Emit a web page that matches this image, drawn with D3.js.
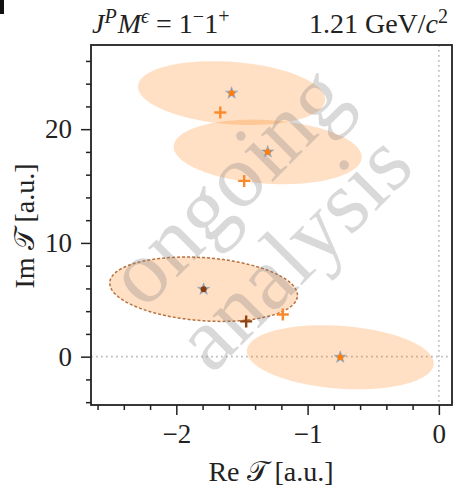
<!DOCTYPE html>
<html>
<head>
<meta charset="utf-8">
<script src="https://cdn.jsdelivr.net/npm/d3@7"></script>
<style>
  html, body { margin: 0; padding: 0; background: #fff; }
  svg { display: block; }
</style>
</head>
<body>
<div id="chart"></div>
<script>
// Fitted amplitude solutions in the complex plane (real / imaginary part)
const solutionRe = [-1.579, -1.304, -1.792, -0.751];
const solutionIm = [23.17, 18.0, 5.93, -0.05];
// Uncertainty ellipse parameters for each solution
const sigmaRe = [0.713, 0.716, 0.715, 0.712];
const sigmaIm = [2.81, 2.84, 2.83, 2.82];
const correlation = [-0.20, -0.16, -0.19, -0.19];
const isSelected = [false, false, true, false];
// Reference (true / input) values
const truthRe = [-1.665, -1.483, -1.468, -1.189];
const truthIm = [21.47, 15.45, 3.10, 3.70];
const truthSelected = [false, false, true, false];
// Axis ticks
const xMajorTicks = [-2, -1, 0];
const xMinorTicks = [-2.6, -2.4, -2.2, -1.8, -1.6, -1.4, -1.2, -0.8, -0.6, -0.4, -0.2];
const yMajorTicks = [0, 10, 20];
const yMinorTicks = [-4, -2, 2, 4, 6, 8, 12, 14, 16, 18, 22, 24, 26];

const W = 457, H = 493;
const mLeft = 91, mRight = 452, mTop = 45, mBottom = 405;
const serif = "'Liberation Serif', 'Times New Roman', serif";
const ink = "#222";

const svg = d3.select("#chart").append("svg")
  .attr("width", W).attr("height", H)
  .attr("font-family", serif);

const x = d3.scaleLinear().domain([-2.65, 0.1]).range([mLeft, mRight]);
const y = d3.scaleLinear().domain([-4.25, 27.4]).range([mBottom, mTop]);

// small dark mark in the top-left corner
svg.append("rect").attr("x", 0).attr("y", 0).attr("width", 4).attr("height", 14).attr("fill", "#111");

svg.append("defs").append("clipPath").attr("id", "plot")
  .append("rect").attr("x", mLeft).attr("y", mTop).attr("width", mRight - mLeft).attr("height", mBottom - mTop);

const plot = svg.append("g").attr("clip-path", "url(#plot)");

// zero reference lines
plot.append("line")
  .attr("x1", mLeft).attr("x2", mRight).attr("y1", y(0)).attr("y2", y(0))
  .attr("stroke", "#bdbdbd").attr("stroke-width", 1.6).attr("stroke-dasharray", "1.8,3.2");
plot.append("line")
  .attr("x1", x(0)).attr("x2", x(0)).attr("y1", mTop).attr("y2", mBottom)
  .attr("stroke", "#bdbdbd").attr("stroke-width", 1.6).attr("stroke-dasharray", "1.8,3.2");

// uncertainty ellipses
const ellipseLine = d3.line().curve(d3.curveLinearClosed);
const angles = d3.range(0, 2 * Math.PI, Math.PI / 90);
solutionRe.forEach((cx, i) => {
  const cy = solutionIm[i], sx = sigmaRe[i], sy = sigmaIm[i], r = correlation[i];
  const pts = angles.map(t => [
    x(cx + sx * Math.cos(t)),
    y(cy + sy * (r * Math.cos(t) + Math.sqrt(1 - r * r) * Math.sin(t)))
  ]);
  const p = plot.append("path")
    .attr("d", ellipseLine(pts))
    .attr("fill", "#ff7f0e").attr("fill-opacity", 0.24);
  if (isSelected[i]) {
    p.attr("stroke", "#b0642c").attr("stroke-opacity", 0.9)
     .attr("stroke-width", 1.5).attr("stroke-dasharray", "3,2");
  }
});

// watermark
const wm = plot.append("text")
  .attr("transform", "translate(266,224) rotate(-45)")
  .attr("text-anchor", "middle")
  .attr("font-size", 90)
  .attr("fill", "#808080").attr("fill-opacity", 0.3);
wm.append("tspan").attr("x", 0).attr("dy", "-0.28em").text("ongoing");
wm.append("tspan").attr("x", 0).attr("dy", "1.04em").text("analysis");

// true values (plus markers)
plot.selectAll(".truth").data(truthRe).join("path")
  .attr("class", "truth")
  .attr("transform", (d, i) => `translate(${x(d)},${y(truthIm[i])})`)
  .attr("d", "M-6,0H6M0,-6V6")
  .attr("fill", "none")
  .attr("stroke", (d, i) => truthSelected[i] ? "#8f4312" : "#fb8a2c")
  .attr("stroke-width", 2.4);

// fitted solutions (star markers)
const star = d3.symbol(d3.symbolStar, 46)();
const stars = plot.selectAll(".sol").data(solutionRe).join("g")
  .attr("class", "sol")
  .attr("transform", (d, i) => `translate(${x(d)},${y(solutionIm[i])})`);
stars.append("path").attr("d", star).attr("fill", "#8797ad").attr("stroke", "#9aa8ba").attr("stroke-width", 0.6);
stars.append("circle").attr("r", 2.9)
  .attr("fill", (d, i) => isSelected[i] ? "#8b3a0e" : "#ff7f0e");

// axes
const fmt = d3.format("d");
svg.append("g").attr("transform", `translate(0,${mBottom})`)
  .call(d3.axisBottom(x).tickValues(xMajorTicks).tickFormat(fmt).tickSize(10).tickPadding(9));
svg.append("g").attr("transform", `translate(0,${mBottom})`)
  .call(d3.axisBottom(x).tickValues(xMinorTicks).tickFormat("").tickSize(5));
svg.append("g").attr("transform", `translate(${mLeft},0)`)
  .call(d3.axisLeft(y).tickValues(yMajorTicks).tickFormat(fmt).tickSize(10).tickPadding(9));
svg.append("g").attr("transform", `translate(${mLeft},0)`)
  .call(d3.axisLeft(y).tickValues(yMinorTicks).tickFormat("").tickSize(5));

svg.selectAll(".domain").remove();
svg.selectAll(".tick line").attr("stroke", ink).attr("stroke-width", 1.5);
svg.selectAll(".tick text")
  .attr("font-family", serif).attr("font-size", 27).attr("fill", ink);

// frame
svg.append("rect")
  .attr("x", mLeft).attr("y", mTop).attr("width", mRight - mLeft).attr("height", mBottom - mTop)
  .attr("fill", "none").attr("stroke", ink).attr("stroke-width", 1.8);

// axis titles
const xLab = svg.append("text")
  .attr("x", 271).attr("y", 481)
  .attr("text-anchor", "middle").attr("font-size", 28).attr("fill", ink);
xLab.append("tspan").text("Re ");
xLab.append("tspan").text("\u{1D4AF}");
xLab.append("tspan").text(" [a.u.]");

const yLab = svg.append("text")
  .attr("transform", `translate(34,226) rotate(-90)`)
  .attr("text-anchor", "middle").attr("font-size", 28).attr("fill", ink);
yLab.append("tspan").text("Im ");
yLab.append("tspan").text("\u{1D4AF}");
yLab.append("tspan").text(" [a.u.]");

// header
const t1 = svg.append("text").attr("x", 92).attr("y", 33)
  .attr("font-size", 28).attr("fill", ink);
t1.append("tspan").attr("font-style", "italic").text("J");
t1.append("tspan").attr("font-style", "italic").attr("font-size", 20).attr("dy", -10).text("P");
t1.append("tspan").attr("font-style", "italic").attr("dy", 10).attr("dx", 1).text("M");
t1.append("tspan").attr("font-style", "italic").attr("font-size", 20).attr("dy", -10).text("\u03F5");
t1.append("tspan").attr("dy", 10).text(" = 1");
t1.append("tspan").attr("font-size", 20).attr("dy", -10).text("\u2212");
t1.append("tspan").attr("dy", 10).text("1");
t1.append("tspan").attr("font-size", 20).attr("dy", -10).text("+");

const t2 = svg.append("text").attr("x", 448).attr("y", 33)
  .attr("text-anchor", "end").attr("font-size", 28).attr("fill", ink);
t2.append("tspan").text("1.21 GeV/");
t2.append("tspan").attr("font-style", "italic").text("c");
t2.append("tspan").attr("font-size", 20).attr("dy", -10).text("2");
</script>
</body>
</html>
